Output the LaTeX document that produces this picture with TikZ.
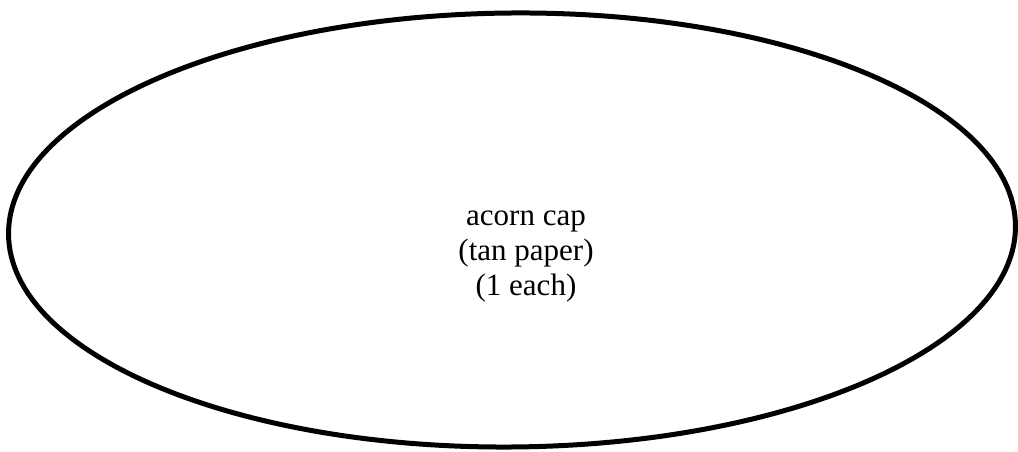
\documentclass[tikz,border=0pt]{standalone}
\usepackage{fontspec}
\setmainfont{Liberation Serif}
\tikzset{
  capoutline/.style={line width=5pt, draw=black},
  caplabel/.style={align=center, inner sep=0pt, font=\fontsize{31}{35}\selectfont}
}
\begin{document}
\begin{tikzpicture}[x=1pt,y=1pt]
\useasboundingbox (0,0) rectangle (1018,452);
\fill[white] (0,0) rectangle (1018,452);
\draw[capoutline, rotate around={0.5:(512,222)}] (512,222) ellipse [x radius=503.5, y radius=217];
\node[caplabel] (lbl) at (526,195) {acorn cap\\(tan paper)\\(1 each)};
\end{tikzpicture}
\end{document}
